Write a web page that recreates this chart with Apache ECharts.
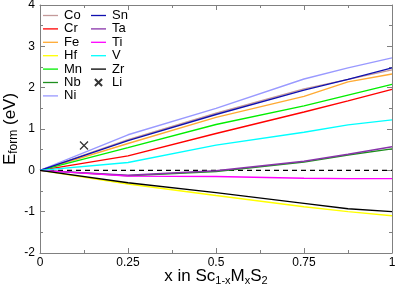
<!DOCTYPE html>
<html><head><meta charset="utf-8">
<script src="https://cdn.jsdelivr.net/npm/echarts@6/dist/echarts.min.js"></script>
<style>html,body{margin:0;padding:0;background:#fff}#c{width:396px;height:291px}</style>
</head><body><div id="c"></div>
<script>
const xs = [0, 0.25, 0.5, 0.75, 0.875, 1];
const Co = [0, 0.74, 1.38, 1.97, 2.2, 2.43];
const Cr = [0, 0.35, 0.89, 1.41, 1.68, 1.96];
const Fe = [0, 0.65, 1.28, 1.79, 2.14, 2.33];
const Hf = [0, -0.33, -0.61, -0.88, -1.0, -1.1];
const Mn = [0, 0.55, 1.11, 1.56, 1.82, 2.08];
const Nb = [0, -0.13, -0.03, 0.2, 0.37, 0.52];
const Ni = [0, 0.86, 1.5, 2.21, 2.48, 2.72];
const Sn = [0, 0.72, 1.35, 1.94, 2.2, 2.48];
const Ta = [0, -0.12, -0.01, 0.22, 0.39, 0.57];
const Ti = [0, -0.14, -0.15, -0.19, -0.2, -0.2];
const V  = [0, 0.19, 0.61, 0.92, 1.1, 1.22];
const Zr = [0, -0.3, -0.54, -0.8, -0.93, -1.0];
const LiX = [0.125];
const LiY = [0.6];
const zeroX = [0, 1];
const zeroY = [0, 0];
const xTicks = [0, 0.25, 0.5, 0.75, 1];
const yTicks = [-2, -1, 0, 1, 2, 3, 4];

const names1 = ['Co','Cr','Fe','Hf','Mn','Nb','Ni'];
const names2 = ['Sn','Ta','Ti','V','Zr','Li'];
const lines = {Co, Cr, Fe, Hf, Mn, Nb, Ni, Sn, Ta, Ti, V, Zr};
const colors = {Co:'#c49a9a', Cr:'#ff0000', Fe:'#ffaa33', Hf:'#ffff00', Mn:'#00ee00', Nb:'#1f8f1f',
  Ni:'#9999ff', Sn:'#1010b0', Ta:'#8833aa', Ti:'#ff00ff', V:'#00ffff', Zr:'#000000'};

const pair = (a, b) => a.map((v, i) => [v, b[i]]);
const FONT = 'Liberation Sans, Arial, sans-serif';
const axisCol = '#808080';
const lineIcon = 'path://M0,0H15V1.3H0Z';
const crossPath = 'path://M0,0L10,10M10,0L0,10';
const crossIcon = 'path://M-2,-2L-2,-2M0,0L10,10M10,0L0,10M12,12L12,12';

const series = Object.keys(lines).map(n => ({
  name: n, type: 'line', data: pair(xs, lines[n]), symbol: 'none', showSymbol: false,
  lineStyle: {color: colors[n], width: 1.4}, itemStyle: {color: colors[n]},
  z: 3
}));
series.unshift({
  name: 'zero', type: 'line', data: pair(zeroX, zeroY), symbol: 'none',
  lineStyle: {color: '#000', width: 1.4, type: [5, 4]}, z: 2, silent: true
});
series.push({
  name: 'Li', type: 'scatter', data: pair(LiX, LiY), symbol: crossPath, symbolSize: 8,
  symbolKeepAspect: true,
  itemStyle: {color: 'rgba(0,0,0,0)', borderColor: '#000', borderWidth: 1.3}, z: 4
});

const legendItems = arr => arr.map(n => n === 'Li' ? {name: n, icon: crossIcon} : {name: n, icon: lineIcon});

const commonX = {type: 'value', min: 0, max: 1, interval: 0.25, splitLine: {show: false}, nameMoveOverlap: false};
const commonY = {type: 'value', min: -2, max: 4, interval: 1, splitLine: {show: false}, nameMoveOverlap: false};
const tickCfg = {
  axisLine: {show: true, onZero: false, lineStyle: {color: axisCol, width: 1}},
  axisTick: {show: true, inside: true, length: 5, lineStyle: {color: axisCol}},
  minorTick: {show: true, splitNumber: 2, length: 3, lineStyle: {color: axisCol}}
};
const legendCommon = {
  orient: 'vertical', top: 9, itemWidth: 15, itemHeight: 10, itemGap: 0.4,
  textStyle: {fontSize: 13, lineHeight: 12, fontFamily: FONT, color: '#000', padding: [0, 0, 0, 1]},
  selectedMode: false, padding: 0
};

const option = {
  animation: false,
  backgroundColor: '#fff',
  grid: {left: 40, right: 4, top: 5, bottom: 38, containLabel: false, outerBoundsMode: 'none'},
  xAxis: [
    Object.assign({}, commonX, tickCfg, {
      position: 'bottom',
      axisLabel: {color: '#000', fontSize: 12, fontFamily: FONT, margin: 4,
        formatter: v => xTicks.includes(v) ? String(v) : ''},
      name: '{m|x in Sc}{s|1-x}{m|M}{s|x}{m|S}{s|2}',
      nameLocation: 'middle', nameGap: 14,
      nameTextStyle: {verticalAlign: 'top', rich: {
        m: {fontSize: 17, fontFamily: FONT, color: '#000'},
        s: {fontSize: 11, fontFamily: FONT, color: '#000', verticalAlign: 'bottom', padding: [8, 0, 0, 0]}
      }}
    }),
    Object.assign({}, commonX, tickCfg, {position: 'top', axisLabel: {show: false}})
  ],
  yAxis: [
    Object.assign({}, commonY, tickCfg, {
      position: 'left',
      axisLabel: {color: '#000', fontSize: 12, fontFamily: FONT, margin: 5,
        formatter: v => yTicks.includes(v) ? String(v) : ''},
      name: '{m|E}{s|form}{m| (eV)}',
      nameLocation: 'middle', nameGap: 30, nameRotate: 90,
      nameTextStyle: {verticalAlign: 'middle', align: 'center', rich: {
        m: {fontSize: 17, fontFamily: FONT, color: '#000'},
        s: {fontSize: 12, fontFamily: FONT, color: '#000', verticalAlign: 'bottom', padding: [8, 0, 0, 0]}
      }}
    }),
    Object.assign({}, commonY, tickCfg, {position: 'right', axisLabel: {show: false}})
  ],
  legend: [
    Object.assign({}, legendCommon, {data: legendItems(names1), left: 43}),
    Object.assign({}, legendCommon, {data: legendItems(names2), left: 91})
  ],
  series: series
};
const chart = echarts.init(document.getElementById('c'), null, {renderer: 'canvas'});
chart.setOption(option);
</script></body></html>
